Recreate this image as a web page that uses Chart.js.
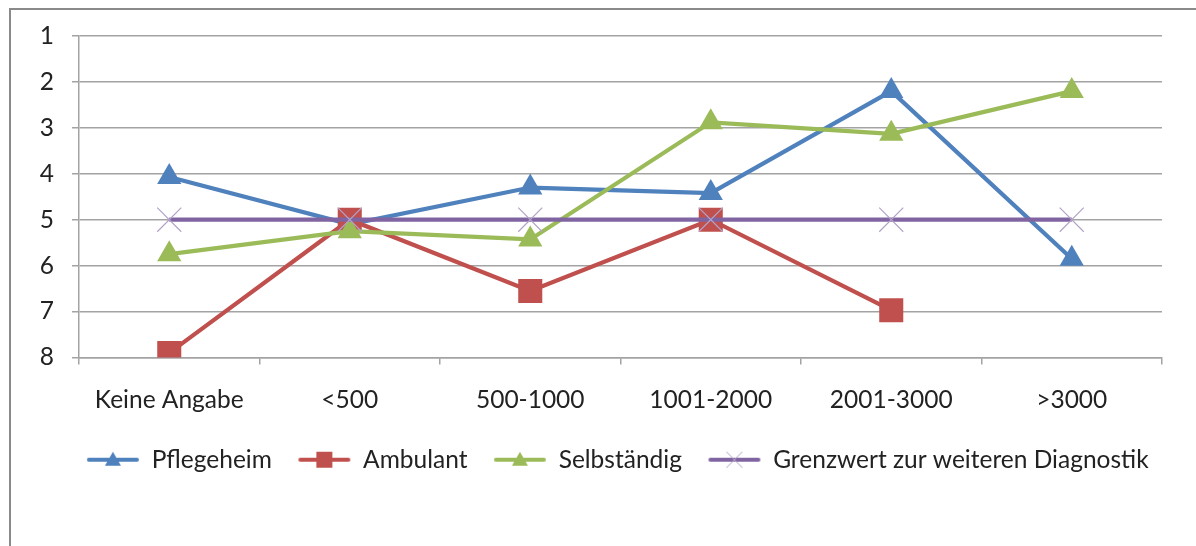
<!DOCTYPE html>
<html>
<head>
<meta charset="utf-8">
<script src="https://cdn.jsdelivr.net/npm/chart.js@4.4.1/dist/chart.umd.min.js"></script>
<style>
  html, body { margin: 0; padding: 0; background: #fff; }
  #wrap { position: relative; width: 1196px; height: 546px; overflow: hidden; }
  #frame { position: absolute; left: 9px; top: 8px; right: -10px; bottom: -10px;
           border-top: 2px solid #8a8a8a; border-left: 2px solid #8a8a8a; }
  canvas { position: absolute; left: 0; top: 0; }
</style>
</head>
<body>
<div id="wrap">
  <div id="frame"></div>
  <canvas id="c" width="1196" height="546"></canvas>
</div>
<script>
// Kategorien (Einkommen) und Werte je Gruppe
const categories = ['Keine Angabe', '<500', '500-1000', '1001-2000', '2001-3000', '>3000'];
const pflegeheim = [4.07, 5.1, 4.3, 4.42, 2.2, 5.85];
const ambulant = [7.9, 5.0, 6.55, 5.0, 6.97, null];
const selbststaendig = [5.75, 5.25, 5.43, 2.88, 3.13, 2.2];
const grenzwert = [5, 5, 5, 5, 5, 5];
const yTicks = [1, 2, 3, 4, 5, 6, 7, 8];

const BLUE = '#4F81BD', RED = '#C0504D', GREEN = '#9BBB59', PURPLE = '#8064A2', LILAC = '#B3A2C7';
const GRID = '#a3a3a3';
const FONT = 'Lato, "Open Sans", sans-serif';
const FS = 24.5;

// Legend icons: a short line with the series marker in the middle
function legendIcon(color, marker) {
  const cv = document.createElement('canvas');
  cv.width = 54; cv.height = 26;
  const g = cv.getContext('2d');
  g.strokeStyle = color; g.lineWidth = 4; g.lineCap = 'round';
  g.beginPath(); g.moveTo(3, 13); g.lineTo(51, 13); g.stroke();
  const cx = 27, cy = 13;
  if (marker === 'triangle') {
    g.fillStyle = color;
    g.beginPath(); g.moveTo(cx, cy - 8); g.lineTo(cx + 8, cy + 6); g.lineTo(cx - 8, cy + 6); g.closePath(); g.fill();
  } else if (marker === 'rect') {
    g.fillStyle = color; g.fillRect(cx - 8, cy - 8, 16, 16);
  } else if (marker === 'crossRot') {
    g.strokeStyle = LILAC; g.lineWidth = 1; g.lineCap = 'butt';
    g.beginPath(); g.moveTo(cx - 8, cy - 8); g.lineTo(cx + 8, cy + 8);
    g.moveTo(cx + 8, cy - 8); g.lineTo(cx - 8, cy + 8); g.stroke();
  }
  return cv;
}
const icons = [
  legendIcon(BLUE, 'triangle'),
  legendIcon(RED, 'rect'),
  legendIcon(GREEN, 'triangle'),
  legendIcon(PURPLE, 'crossRot')
];

// Centre the legend row under the plot area rather than under the whole canvas
const legendUnderPlot = {
  id: 'legendUnderPlot',
  afterLayout(chart) {
    const lg = chart.legend;
    if (!lg) return;
    const shift = (chart.chartArea.left + chart.chartArea.right) / 2 - (lg.left + lg.right) / 2 - 3;
    lg.left += shift;
    lg.right += shift;
  }
};

const data = {
  labels: categories,
  datasets: [
    { label: 'Pflegeheim', data: pflegeheim, borderColor: BLUE, backgroundColor: BLUE,
      pointStyle: 'triangle', pointRadius: 14, pointBorderWidth: 0, order: 4 },
    { label: 'Ambulant', data: ambulant, borderColor: RED, backgroundColor: RED,
      pointStyle: 'rect', pointRadius: 17, pointBorderWidth: 0, order: 3 },
    { label: 'Selbständig', data: selbststaendig, borderColor: GREEN, backgroundColor: GREEN,
      pointStyle: 'triangle', pointRadius: 14, pointBorderWidth: 0, order: 2 },
    { label: 'Grenzwert zur weiteren Diagnostik', data: grenzwert, borderColor: PURPLE, backgroundColor: LILAC,
      pointStyle: 'crossRot', pointRadius: 17, pointBorderColor: LILAC, pointBorderWidth: 1.2, order: 1 }
  ]
};

new Chart(document.getElementById('c'), {
  type: 'line',
  data,
  plugins: [legendUnderPlot],
  options: {
    responsive: false,
    animation: false,
    events: [],
    layout: { padding: { left: 0, right: 34, top: 36, bottom: 64 } },
    elements: { line: { borderWidth: 4.2, tension: 0, fill: false } },
    scales: {
      x: {
        type: 'category',
        offset: true,
        grid: { offset: true, drawOnChartArea: false, drawTicks: true, tickLength: 7, color: GRID, lineWidth: 1.5 },
        border: { display: true, color: GRID, width: 1.5 },
        ticks: { color: '#222', font: { family: FONT, size: FS }, padding: 21, maxRotation: 0, autoSkip: false },
        afterFit: (s) => { s.height = 64; }
      },
      y: {
        reverse: true,
        min: yTicks[0],
        max: yTicks[yTicks.length - 1],
        afterBuildTicks: (s) => { s.ticks = yTicks.map(v => ({ value: v })); },
        grid: { color: GRID, lineWidth: 1.5, tickLength: 7 },
        border: { display: true, color: GRID, width: 1.5 },
        ticks: { color: '#222', font: { family: FONT, size: FS }, padding: 18 },
        afterFit: (s) => { s.width = 79; }
      }
    },
    plugins: {
      tooltip: { enabled: false },
      legend: {
        position: 'bottom',
        labels: {
          usePointStyle: true,
          pointStyleWidth: 53,
          boxHeight: FS,
          padding: 26,
          color: '#222',
          font: { family: FONT, size: FS },
          sort: (a, b) => a.datasetIndex - b.datasetIndex,
          generateLabels: (chart) => {
            const items = Chart.defaults.plugins.legend.labels.generateLabels(chart);
            items.forEach(it => { it.pointStyle = icons[it.datasetIndex]; it.rotation = 0; });
            return items;
          }
        }
      }
    }
  }
});
</script>
</body>
</html>
